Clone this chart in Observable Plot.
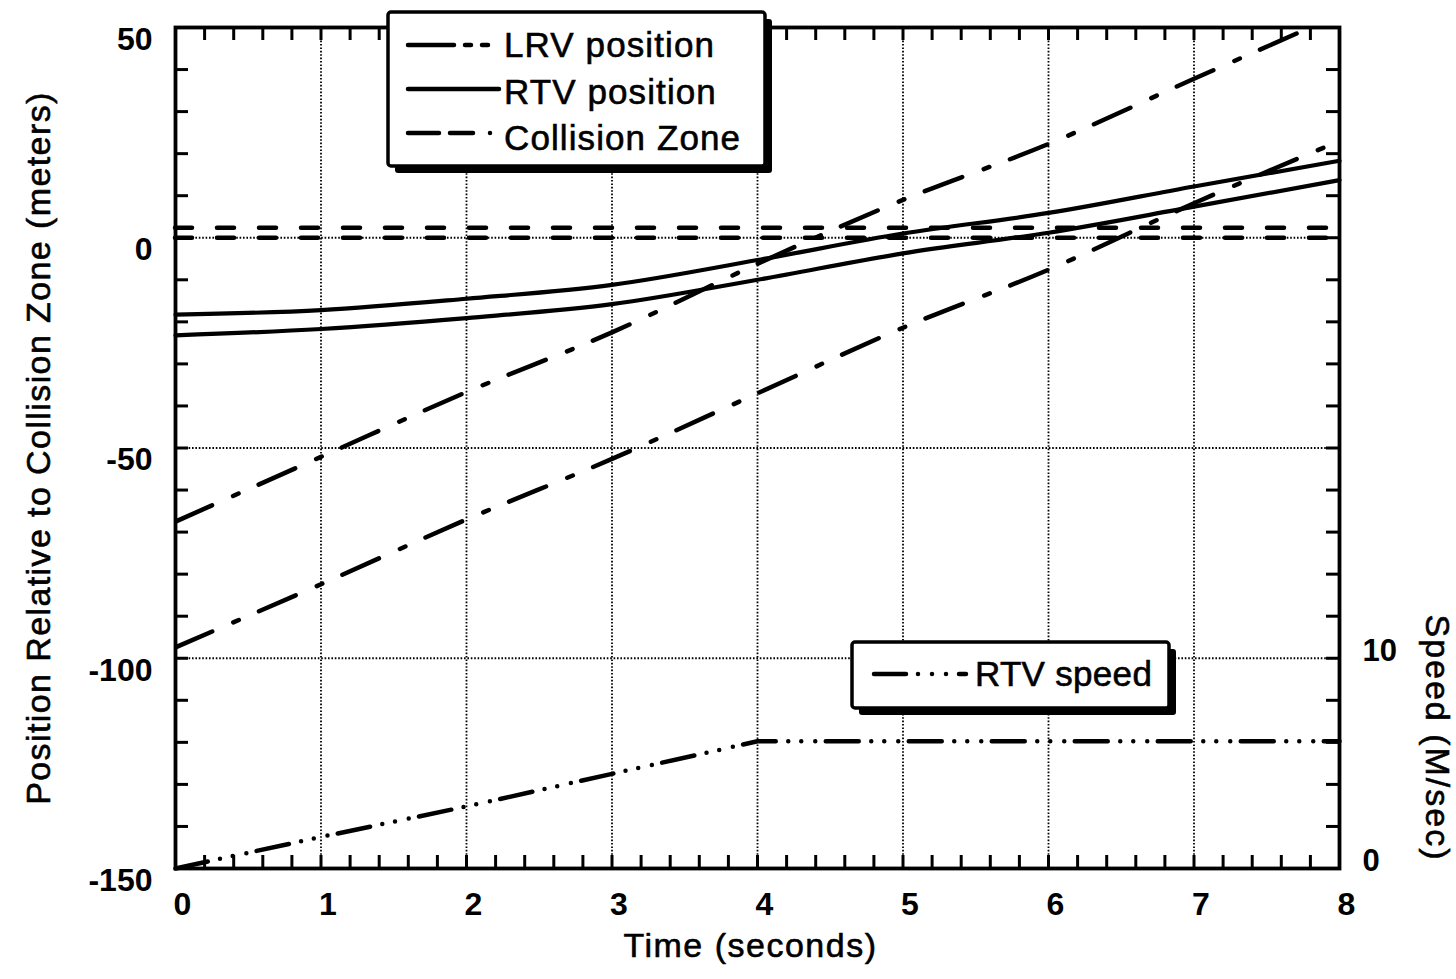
<!DOCTYPE html>
<html>
<head>
<meta charset="utf-8">
<script src="https://cdn.jsdelivr.net/npm/d3@7"></script>
<script src="https://cdn.jsdelivr.net/npm/@observablehq/plot@0.6"></script>
<style>
  html, body { margin: 0; padding: 0; background: #fff; }
  #chart svg { display: block; }
</style>
</head>
<body>
<div id="chart"></div>
<script>
// ---------- data ----------
const times = [0, 1, 2, 3, 4, 5, 6, 7, 8];
const lrvFrontTimes = [0, 1, 2, 3, 4, 5, 6, 7, 7.8];
const lrvFront = [-67.5, -52.1, -36.7, -22.5, -6.2, 9.0, 22.3, 37.8, 50.0];
const lrvRear = [-97.4, -82.4, -67.0, -52.6, -37.0, -21.4, -7.6, 8.2, 23.0];
const rtvFront = [-18.3, -17.2, -14.5, -11.2, -5.3, 1.0, 5.9, 12.2, 18.3];
const rtvRear = [-23.2, -21.7, -19.1, -15.8, -10.0, -3.7, 1.2, 7.4, 13.7];
const rtvSpeed = [0, 1.5, 2.95, 4.5, 6.05, 6.05, 6.05, 6.05, 6.05];
const collisionZone = [0, 2.4];

const xTickLabels = [0, 1, 2, 3, 4, 5, 6, 7, 8];
const yTickLabels = [50, 0, -50, -100, -150];
const speedTickLabels = [0, 10];
const gridTimes = [1, 2, 3, 4, 5, 6, 7];
const gridPositions = [0, -50, -100];
const xMinorTicks = d3.range(0, 41).map(i => i / 5);
const yMinorTicks = d3.range(-150, 51, 10);

// secondary (speed) axis: 0 m/s at -150 m, 10 m/s at -100 m
const speedToPos = s => -150 + s * 5;

const rows = (ts, vs) => ts.map((t, i) => ({ t, v: vs[i] }));

// ---------- layout ----------
const W = 1456, H = 979;
const mL = 175, mR = 117, mT = 27, mB = 111;
const plotW = W - mL - mR, plotH = H - mT - mB;
const tickLen = 13;
const FONT = "'Liberation Sans', Arial, Helvetica, sans-serif";

const dotted = { stroke: "black", strokeWidth: 1.8, strokeDasharray: "1.6,1.8" };
const lrvStyle = { stroke: "black", strokeWidth: 4.5, strokeLinecap: "round", strokeDasharray: "40,23,6,22" };
const rtvStyle = { stroke: "black", strokeWidth: 4.2, strokeLinecap: "round" };
const zoneStyle = { stroke: "black", strokeWidth: 4.5, strokeLinecap: "round", strokeDasharray: "17,25" };
const speedStyle = { stroke: "black", strokeWidth: 4.5, strokeLinecap: "round", strokeDasharray: "33,12.5,0,13,0,14,0,10.5" };
const heavy = { fill: "black", stroke: "black", strokeWidth: 0.6 };

const plot = Plot.plot({
  width: W, height: H,
  marginLeft: mL, marginRight: mR, marginTop: mT, marginBottom: mB,
  x: { domain: [0, 8], axis: null },
  y: { domain: [-150, 50], axis: null },
  style: { fontFamily: FONT, background: "white", color: "black" },
  marks: [
    Plot.ruleX(gridTimes, { x: d => d, ...dotted }),
    Plot.ruleY(gridPositions, { y: d => d, ...dotted }),
    Plot.ruleY(collisionZone, { y: d => d, ...zoneStyle }),
    Plot.line(rows(lrvFrontTimes, lrvFront), { x: "t", y: "v", curve: "monotone-x", clip: true, ...lrvStyle }),
    Plot.line(rows(times, lrvRear), { x: "t", y: "v", curve: "monotone-x", clip: true, ...lrvStyle }),
    Plot.line(rows(times, rtvFront), { x: "t", y: "v", curve: "monotone-x", ...rtvStyle }),
    Plot.line(rows(times, rtvRear), { x: "t", y: "v", curve: "monotone-x", ...rtvStyle }),
    Plot.line(rows(times, rtvSpeed), { x: "t", y: d => speedToPos(d.v), ...speedStyle }),
    // inward ticks
    Plot.tickX(xMinorTicks, { x: d => d, insetTop: plotH - tickLen, stroke: "black", strokeWidth: 3 }),
    Plot.tickX(xMinorTicks, { x: d => d, insetBottom: plotH - tickLen, stroke: "black", strokeWidth: 3 }),
    Plot.tickY(yMinorTicks, { y: d => d, insetRight: plotW - tickLen, stroke: "black", strokeWidth: 3 }),
    Plot.tickY(yMinorTicks, { y: d => d, insetLeft: plotW - tickLen, stroke: "black", strokeWidth: 3 }),
    Plot.frame({ stroke: "black", strokeWidth: 3.8 }),
    // tick labels
    Plot.text(xTickLabels, { x: d => d, text: d => String(d), frameAnchor: "bottom", dy: 46, dx: 7,
      textAnchor: "middle", fontSize: 32, fontWeight: "bold", fill: "black" }),
    Plot.text(yTickLabels, { y: d => d, text: d => String(d), frameAnchor: "left", dx: -23, dy: 12,
      textAnchor: "end", fontSize: 32, fontWeight: "bold", fill: "black" }),
    Plot.text(speedTickLabels, { y: d => speedToPos(d), text: d => String(d), frameAnchor: "right", dx: 23, dy: -7,
      textAnchor: "start", fontSize: 31, fontWeight: "bold", fill: "black" }),
    // axis titles
    Plot.text(["Position Relative to Collision Zone (meters)"], { frameAnchor: "left", dx: -136, rotate: -90,
      textAnchor: "middle", fontSize: 34, ...heavy }),
    Plot.text(["Time (seconds)"], { frameAnchor: "bottom", dx: -7, dy: 88, textAnchor: "middle",
      fontSize: 34, ...heavy }),
    Plot.text(["Speed (M/sec)"], { frameAnchor: "right", dx: 97, dy: 290, rotate: 90, textAnchor: "middle",
      fontSize: 34, ...heavy })
  ]
});

document.getElementById("chart").appendChild(plot);

const svg = d3.select(plot);
svg.selectAll("text").each(function () {
  const t = this.textContent;
  if (t.startsWith("Position")) d3.select(this).attr("letter-spacing", 1.4);
  else if (t.startsWith("Time")) d3.select(this).attr("letter-spacing", 1.5);
  else if (t.startsWith("Speed")) d3.select(this).attr("letter-spacing", 2);
});

// ---------- legends (boxes with drop shadows) ----------
function legendBox(x, y, w, h) {
  const g = svg.append("g").attr("text-anchor", "start");
  g.append("rect").attr("x", x + 7).attr("y", y + 7).attr("width", w).attr("height", h)
    .attr("rx", 3).attr("fill", "black");
  g.append("rect").attr("x", x).attr("y", y).attr("width", w).attr("height", h)
    .attr("rx", 3).attr("fill", "white").attr("stroke", "black").attr("stroke-width", 3.5);
  return g;
}
function sample(g, x1, x2, y, dash, width) {
  const l = g.append("line").attr("x1", x1).attr("x2", x2).attr("y1", y).attr("y2", y)
    .attr("stroke", "black").attr("stroke-width", width).attr("stroke-linecap", "round");
  if (dash) l.attr("stroke-dasharray", dash);
}
function label(g, x, y, text, size, spacing) {
  g.append("text").attr("x", x).attr("y", y).attr("text-anchor", "start")
    .attr("font-family", FONT).attr("font-size", size)
    .attr("letter-spacing", spacing).attr("fill", "black")
    .attr("stroke", "black").attr("stroke-width", 0.6).text(text);
}

const legend1 = [
  { name: "LRV position", dash: "46,11,6,11,6,11,0,100" },
  { name: "RTV position", dash: null },
  { name: "Collision Zone", dash: "31,11,23,17,0,100" }
];
const g1 = legendBox(388, 12, 377, 154);
legend1.forEach((d, i) => {
  const yLine = 45 + i * 44;
  sample(g1, 408, 499, yLine, d.dash, 4.5);
  label(g1, 504, 57 + i * 46.5, d.name, 35, 1.1);
});

const legend2 = [{ name: "RTV speed", dash: "32,12,0,14,0,14,0,13,7,100" }];
const g2 = legendBox(852, 642, 317, 66);
legend2.forEach(d => {
  sample(g2, 874, 966, 674, d.dash, 4.5);
  label(g2, 975, 686, d.name, 35, 0.3);
});
</script>
</body>
</html>
